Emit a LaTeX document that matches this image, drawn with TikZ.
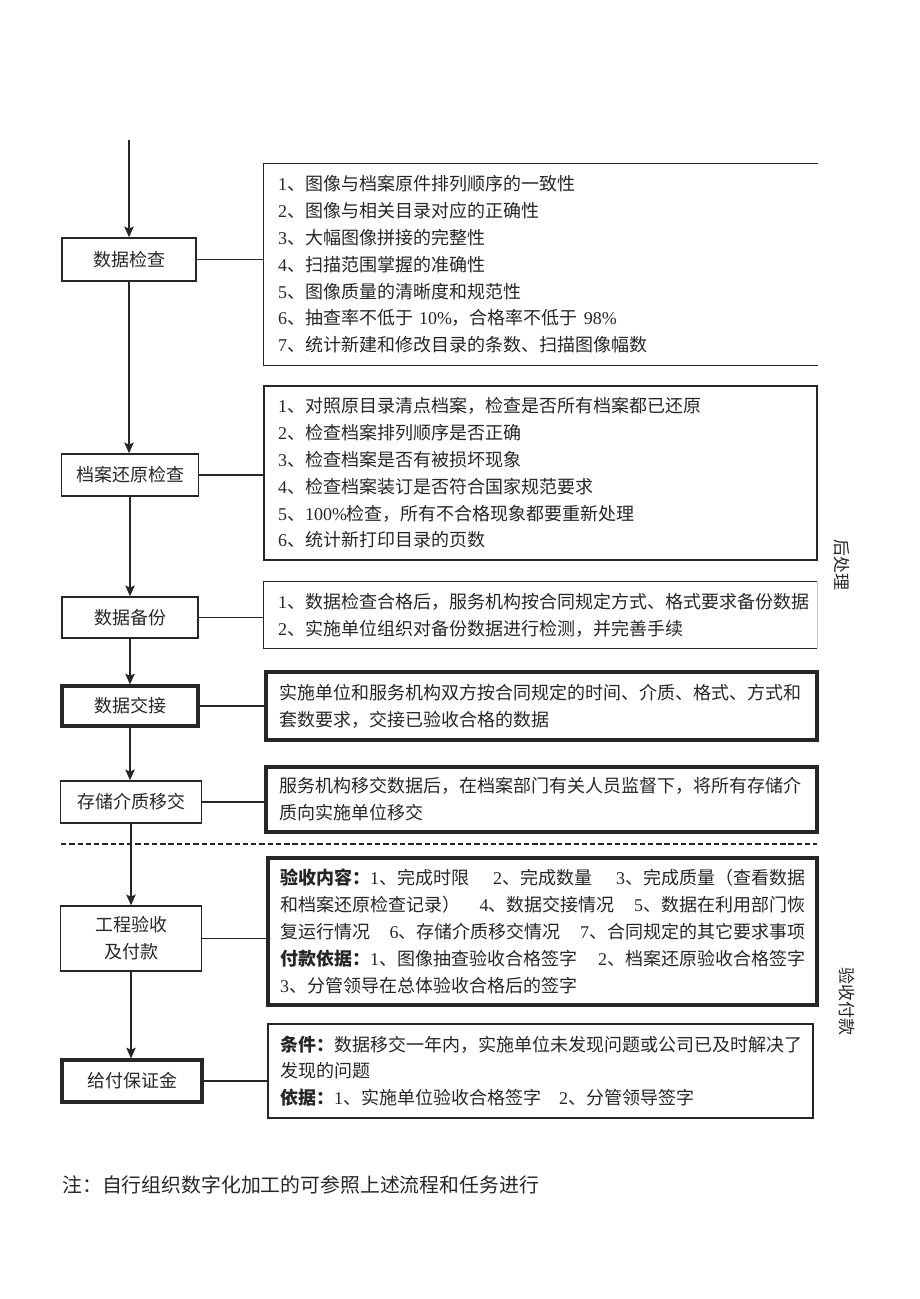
\documentclass[tikz,border=0pt]{standalone}
\usepackage{fontspec}
\setmainfont{Noto Sans CJK SC}
\newfontfamily\lser{Liberation Serif}
\usetikzlibrary{arrows.meta,calc}
\newcommand\dg[1]{{\lser #1}}
\newcommand\jline[1]{\makebox[\hsize][s]{#1}}
\begin{document}
\begin{tikzpicture}[x=0.75pt,y=-0.75pt,
  every node/.style={font=\fontsize{13.5}{20.1}\selectfont, text=black!85},
  lbox/.style={draw=black!85, line width=1.1pt, inner sep=0pt, align=center},
  thk/.style={line width=2.4pt},
  rbox/.style={inner xsep=10.5pt, inner ysep=0pt, align=left},
  rline/.style={draw=black!85, line width=1.1pt},
  arr/.style={draw=black!85, line width=1.1pt, -{Stealth[length=8pt,width=7pt,inset=1.5pt]}},
  con/.style={draw=black!85, line width=1.1pt},
  side/.style={rotate=-90, font=\fontsize{12.75}{15}\selectfont},
]
\useasboundingbox (0,0) rectangle (920,1299);

% left column
\coordinate (top) at (129,140);
\node[lbox, minimum width=100.5pt, minimum height=32.25pt] (A) at (129,259.5) {数据检查};
\node[lbox, minimum width=102.75pt, minimum height=31.5pt] (B) at (130,475) {档案还原检查};
\node[lbox, minimum width=102pt, minimum height=30.75pt] (C) at (130,617.5) {数据备份};
\node[lbox, thk, minimum width=102pt, minimum height=30pt] (D) at (130,706) {数据交接};
\node[lbox, minimum width=105.75pt, minimum height=31.5pt] (E) at (131,802) {存储介质移交};
\node[lbox, minimum width=105.75pt, minimum height=48.75pt] (F) at (131,938.5) {工程验收\\及付款};
\node[lbox, thk, minimum width=105pt, minimum height=31.5pt] (G) at (132,1081) {给付保证金};

\draw[arr] (top) -- (A.north);
\draw[arr] (A.south) -- (A.south |- B.north);
\draw[arr] (B.south) -- (B.south |- C.north);
\draw[arr] (C.south) -- (C.south |- D.north);
\draw[arr] (D.south) -- (D.south |- E.north);
\draw[arr] (E.south) -- (E.south |- F.north);
\draw[arr] (F.south) -- (F.south |- G.north);

% right boxes
\node[rbox, text width=394.5pt, minimum height=150.75pt] (R1) at (541,264.5) {%
\dg{1}、图像与档案原件排列顺序的一致性\\
\dg{2}、图像与相关目录对应的正确性\\
\dg{3}、大幅图像拼接的完整性\\
\dg{4}、扫描范围掌握的准确性\\
\dg{5}、图像质量的清晰度和规范性\\
\dg{6}、抽查率不低于 \dg{10\%}，合格率不低于 \dg{98\%}\\
\dg{7}、统计新建和修改目录的条数、扫描图像幅数};
\draw[rline] (R1.north east) -- (R1.north west) -- (R1.south west) -- (R1.south east);

\node[rbox, rline, text width=393.75pt, minimum height=130.5pt] (R2) at (540.5,473) {%
\dg{1}、对照原目录清点档案，检查是否所有档案都已还原\\
\dg{2}、检查档案排列顺序是否正确\\
\dg{3}、检查档案是否有被损坏现象\\
\dg{4}、检查档案装订是否符合国家规范要求\\
\dg{5}、\dg{100\%}检查，所有不合格现象都要重新处理\\
\dg{6}、统计新打印目录的页数};

\node[rbox, text width=393.75pt, minimum height=49.5pt] (R3) at (540.5,615) {%
\dg{1}、数据检查合格后，服务机构按合同规定方式、格式要求备份数据\\
\dg{2}、实施单位组织对备份数据进行检测，并完善手续};
\draw[rline] (R3.north east) -- (R3.north west) -- (R3.south west) -- (R3.south east);
\draw[line width=0.8pt, black!25] (R3.north east) -- (R3.south east);

\node[rbox, rline, thk, inner xsep=10pt, text width=393.25pt, minimum height=51pt] (R4) at (541.5,706) {%
实施单位和服务机构双方按合同规定的时间、介质、格式、方式和\\
套数要求，交接已验收合格的数据};

\node[rbox, rline, thk, inner xsep=10pt, text width=393.25pt, minimum height=48.75pt] (R5) at (541.5,799.5) {%
服务机构移交数据后，在档案部门有关人员监督下，将所有存储介\\
质向实施单位移交};

\node[rbox, rline, thk, inner xsep=9pt, text width=393.75pt, minimum height=110.25pt] (R6) at (542.5,931.5) {%
\jline{{\bfseries 验收内容：}\dg{1}、完成时限\hfill\dg{2}、完成数量\hfill\dg{3}、完成质量（查看数据}\\
\jline{和档案还原检查记录）\hfill\dg{4}、数据交接情况\hfill\dg{5}、数据在利用部门恢}\\
\jline{复运行情况\hfill\dg{6}、存储介质移交情况\hfill\dg{7}、合同规定的其它要求事项}\\
\jline{{\bfseries 付款依据：}\dg{1}、图像抽查验收合格签字\hfill\dg{2}、档案还原验收合格签字}\\
\dg{3}、分管领导在总体验收合格后的签字};

\node[rbox, rline, line width=2pt, inner xsep=9pt, text width=390.75pt, minimum height=70.5pt] (R7) at (540.5,1071) {%
{\bfseries 条件：}数据移交一年内，实施单位未发现问题或公司已及时解决了\\
发现的问题\\
{\bfseries 依据：}\dg{1}、实施单位验收合格签字\quad\dg{2}、分管领导签字};

% connectors
\draw[con] (A.east) -- (A.east -| R1.west);
\draw[con] (B.east) -- (B.east -| R2.west);
\draw[con] (C.east) -- (C.east -| R3.west);
\draw[con] (D.east) -- (D.east -| R4.west);
\draw[con] (E.east) -- (E.east -| R5.west);
\draw[con] (F.east) -- (F.east -| R6.west);
\draw[con] (G.east) -- (G.east -| R7.west);

% dashed separator
\coordinate (d1) at (61,844);
\coordinate (d2) at (817,844);
\draw[black!85, line width=1pt, dash pattern=on 4pt off 2.2pt] (d1) -- (d2);

% side labels
\node[side] (S1) at (842,565) {后处理};
\node[side] (S2) at (847,1001) {验收付款};

% note
\node[anchor=west, inner sep=0pt, font=\fontsize{14.9}{18}\selectfont] (N) at (62,1185) {注：自行组织数字化加工的可参照上述流程和任务进行};
\end{tikzpicture}
\end{document}
